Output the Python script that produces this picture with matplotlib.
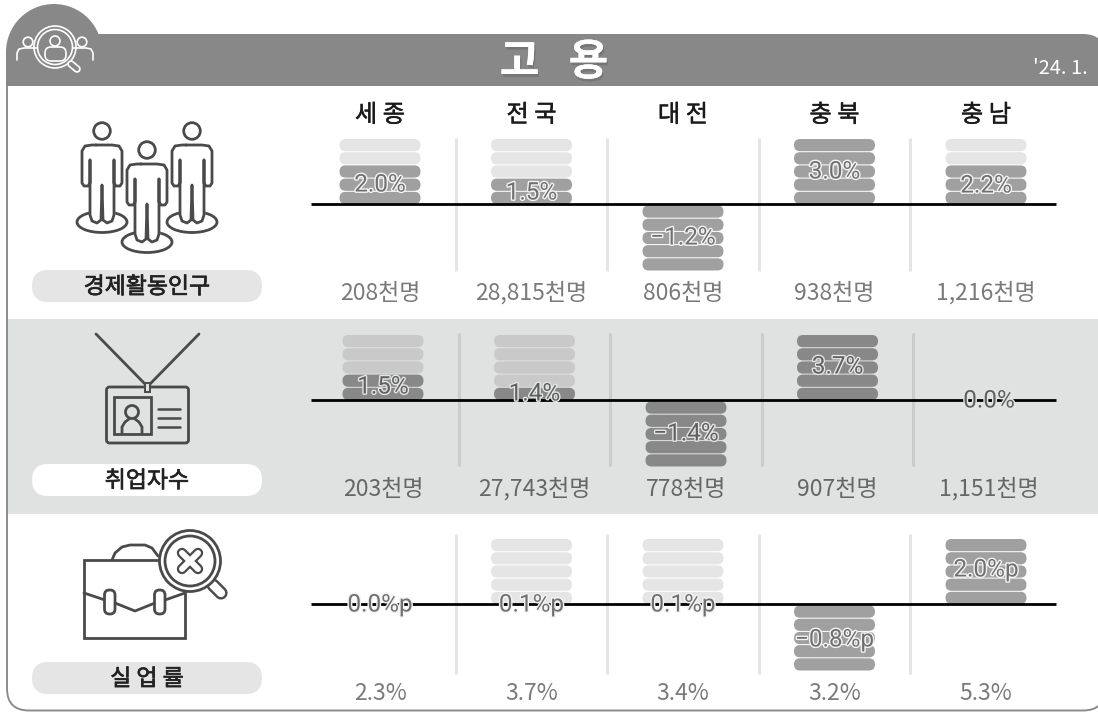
#!/usr/bin/env python3
"""고용 인포그래픽: 경제활동인구 / 취업자수 / 실업률 (알약 막대)"""

import numpy as np
import matplotlib
matplotlib.use("Agg")
import matplotlib.pyplot as plt
import matplotlib.patheffects as pe
from matplotlib.patches import Circle, Ellipse, FancyBboxPatch, Rectangle, Wedge

plt.rcParams["font.family"] = ["Noto Sans CJK KR", "DejaVu Sans"]

# ---- data ----
regions = ["세 종", "전 국", "대 전", "충 북", "충 남"]
row_names = ["경제활동인구", "취업자수", "실 업 률"]

labor_change = ["2.0%", "1.5%", "−1.2%", "3.0%", "2.2%"]
labor_sign = [1, 1, -1, 1, 1]
labor_filled = [3, 2, 5, 5, 3]
labor_total = ["208천명", "28,815천명", "806천명", "938천명", "1,216천명"]

employed_change = ["1.5%", "1.4%", "−1.4%", "3.7%", "0.0%"]
employed_sign = [1, 1, -1, 1, 0]
employed_filled = [2, 1, 5, 5, 0]
employed_total = ["203천명", "27,743천명", "778천명", "907천명", "1,151천명"]

jobless_change = ["0.0%p", "0.1%p", "0.1%p", "−0.8%p", "2.0%p"]
jobless_sign = [0, 1, 1, -1, 1]
jobless_filled = [0, 0, 0, 5, 5]
jobless_total = ["2.3%", "3.7%", "3.4%", "3.2%", "5.3%"]

# ---- layout (pixels) ----
PILL_W, PILL_H, PITCH = 81, 12.2, 13.2
COL_X = np.array([380, 531.5, 683, 834.5, 986])
ROW_STYLE = [
    dict(dx=0, base=204, sep=(138, 271), col="#A0A0A0", light="#E5E5E5", sepc="#E5E5E5",
         total_y=293, total_c="#7A7A7A", pill="#E5E5E5", text="#707070",
         label_y=[185, 193, 238, 172, 186]),
    dict(dx=3, base=400, sep=(333, 466), col="#888888", light="#C9C9C9", sepc="#CCCCCC",
         total_y=489, total_c="#666666", pill="#FFFFFF", text="#606060",
         label_y=[387, 394, 434, 367, 401]),
    dict(dx=0, base=604, sep=(534, 674), col="#A0A0A0", light="#E5E5E5", sepc="#E5E5E5",
         total_y=693, total_c="#7A7A7A", pill="#E5E5E5", text="#707070",
         label_y=[605, 605, 605, 640, 570]),
]
PILL_Y = [(270, 302), (464, 496), (662, 694)]
INK = "#4A4A4A"
HEAD = "#888888"
LW = 2.0


def pill(ax, x0, y0, w, h, color, z=3):
    ax.add_patch(FancyBboxPatch((x0, y0), w, h, boxstyle=f"round,pad=0,rounding_size={h / 2}",
                                lw=0, ec="none", fc=color, zorder=z))


def stroke(ax, xs, ys, color=INK, lw=LW, z=6):
    ax.plot(xs, ys, color=color, lw=lw, solid_capstyle="round", solid_joinstyle="round", zorder=z)


def person(ax, cx, top):
    # 머리 + 몸통 외곽
    ax.add_patch(Circle((cx, top - 14), 8.3, fc="none", ec=INK, lw=LW, zorder=6))
    xs = [-6, -10, -17, -20, -20, -18, -14, -12, -12, -12, -12, -10, -5, -1, 0, 1, 5, 10, 12, 12, 12, 12, 14, 18, 20, 20, 17, 10, -6]
    ys = [0, 0, 1, 6, 38, 41, 41, 38, 15, 38, 70, 76, 78, 75, 40, 75, 78, 76, 70, 38, 15, 38, 41, 41, 38, 6, 1, 0, 0]
    ax.fill(cx + np.array([-20, 20, 20, 12, 12, -12, -12, -20]),
            top + np.array([3, 3, 40, 40, 76, 76, 40, 40]), color="white", zorder=5)
    stroke(ax, cx + np.array(xs), top + np.array(ys))


def draw_people(ax):
    for c, y, w in [(102, 222, 50), (192, 222, 50), (147, 242, 50)]:
        ax.add_patch(Ellipse((c, y), w, 21, fc="white", ec=INK, lw=LW, zorder=4))
    person(ax, 102, 145)
    person(ax, 192, 145)
    person(ax, 147, 164)


def draw_badge(ax):
    stroke(ax, [96, 145], [334, 384])
    stroke(ax, [199, 150], [334, 384])
    ax.add_patch(FancyBboxPatch((106.5, 387), 82, 56, boxstyle="round,pad=0,rounding_size=3",
                                fc="none", ec=INK, lw=LW, zorder=6))
    ax.add_patch(Rectangle((144.5, 383), 5.5, 9, fc="#E0E1E1", ec=INK, lw=1.4, zorder=7))
    ax.add_patch(Rectangle((113.5, 397), 37, 37, fc="none", ec=INK, lw=LW, zorder=6))
    ax.add_patch(Circle((132, 412), 6.5, fc="none", ec=INK, lw=LW, zorder=6))
    stroke(ax, [122, 122, 125, 129], [433, 427, 422, 419])
    stroke(ax, [142, 142, 139, 135], [433, 427, 422, 419])
    for y in [409, 418, 427]:
        stroke(ax, [158, 180], [y, y], lw=1.8)


def draw_case(ax):
    ax.add_patch(Rectangle((84, 560), 101, 78, fc="white", ec=INK, lw=LW, zorder=5))
    stroke(ax, [112, 115, 122, 130, 145, 152, 158], [560, 553, 547, 545, 545, 548, 556], z=4)
    stroke(ax, [84, 105], [593, 600])
    stroke(ax, [115, 135, 155], [603, 611, 603])
    stroke(ax, [165, 185], [600, 593])
    for x in [104.5, 154.5]:
        ax.add_patch(FancyBboxPatch((x, 590), 10.5, 24, boxstyle="round,pad=0,rounding_size=5",
                                    fc="white", ec=INK, lw=LW, zorder=6))
    # 돋보기
    stroke(ax, [213, 221], [585, 593], lw=9.5, z=7)
    stroke(ax, [213, 221], [585, 593], color="white", lw=6, z=8)
    ax.add_patch(Circle((190, 561), 30.5, fc="white", ec=INK, lw=LW, zorder=9))
    ax.add_patch(Circle((190, 561), 25, fc="white", ec=INK, lw=LW, zorder=9))
    for sgn in [1, -1]:
        stroke(ax, [190 - 8 * sgn, 190 + 8 * sgn], [553, 569], lw=7.5, z=10)
    for sgn in [1, -1]:
        stroke(ax, [190 - 8 * sgn, 190 + 8 * sgn], [553, 569], color="white", lw=4.3, z=11)


def draw_header(ax):
    ax.add_patch(FancyBboxPatch((7, 34), 1098, 52, boxstyle="round,pad=0,rounding_size=22",
                                fc=HEAD, ec="none", zorder=2))
    ax.add_patch(Rectangle((7, 60), 1098, 26, fc=HEAD, ec="none", zorder=2))
    ax.add_patch(Wedge((54, 52), 48, 180, 360, fc=HEAD, ec="none", zorder=2))
    ax.add_patch(Rectangle((6, 52), 40, 34, fc=HEAD, ec="none", zorder=2))
    # 왼쪽 위 아이콘
    ax.add_patch(Circle((55, 47), 21, fc="none", ec="white", lw=1.2, zorder=4))
    ax.add_patch(Circle((55, 47), 17.5, fc="none", ec="white", lw=1.2, zorder=4))
    ax.add_patch(Circle((55, 41), 5, fc="none", ec="white", lw=1.2, zorder=4))
    ax.add_patch(FancyBboxPatch((45, 47), 21, 14, boxstyle="round,pad=0,rounding_size=6",
                                fc="none", ec="white", lw=1.2, zorder=4))
    stroke(ax, [71, 77], [64, 69], color="white", lw=5.5, z=4)
    stroke(ax, [71, 77], [64, 69], color=HEAD, lw=3, z=5)
    for c, sgn in [(28, -1), (82, 1)]:
        ax.add_patch(Circle((c, 42), 4.8, fc="none", ec="white", lw=1.2, zorder=4))
        stroke(ax, [c - sgn * 9, c + sgn * 4, c + sgn * 9, c + sgn * 11, c + sgn * 11],
               [48, 48, 49, 53, 60], color="white", lw=1.2, z=3)
    t = ax.text(554, 62, "고   용", color="white", fontsize=31, fontweight="bold",
                ha="center", va="center", zorder=6)
    t.set_path_effects([pe.withSimplePatchShadow(offset=(1, -2), shadow_rgbFace="#555555", alpha=0.35),
                        pe.Normal()])
    ax.text(1088, 68, "'24. 1.", color="white", fontsize=14.5, ha="right", va="center", zorder=6)


def draw_row(ax, style, changes, signs, filled, totals):
    ax.plot([311, 1056], [style["base"], style["base"]], color="black", lw=2.0, zorder=4,
            solid_capstyle="butt")
    for x in COL_X[:-1] + 75.5 + style["dx"]:
        ax.plot([x, x], style["sep"], color=style["sepc"], lw=2.2, zorder=2.5, solid_capstyle="butt")
    for i, cx in enumerate(COL_X + style["dx"]):
        if signs[i] > 0:
            tops = [style["base"] - 65 + k * PITCH for k in range(5)]
            colors = [style["light"]] * (5 - filled[i]) + [style["col"]] * filled[i]
        elif signs[i] < 0:
            tops = [style["base"] + 1.5 + k * PITCH for k in range(5)]
            colors = [style["col"]] * 5
        else:
            tops, colors = [], []
        for y, c in zip(tops, colors):
            pill(ax, cx - PILL_W / 2, y, PILL_W, PILL_H, c)
        halo = "#F4F4F4" if style["dx"] == 0 else "#E4E5E5"
        ax.text(cx, style["label_y"][i], changes[i], color=style["text"], fontsize=17.5, ha="center",
                va="center", zorder=7, family=["Roboto", "DejaVu Sans"],
                path_effects=[pe.withStroke(linewidth=2.0, foreground=halo)])
        ax.text(cx, style["total_y"], totals[i], color=style["total_c"], fontsize=16.5,
                ha="center", va="center", zorder=7)


fig = plt.figure(figsize=(10.98, 7.12), dpi=100)
ax = fig.add_axes([0, 0, 1, 1])
ax.set_xlim(0, 1098)
ax.set_ylim(712, 0)
ax.axis("off")

# 카드 외곽과 회색 띠
ax.add_patch(FancyBboxPatch((7, 60), 1098, 650.5, boxstyle="round,pad=0,rounding_size=22",
                            fc="white", ec="#8C8C8C", lw=1.4, zorder=1))
ax.add_patch(Rectangle((8, 319), 1090, 195, fc="#E0E1E1", ec="none", zorder=1.2))
draw_header(ax)

for i, name in enumerate(row_names):
    y0, y1 = PILL_Y[i]
    pill(ax, 32, y0, 230, y1 - y0, ROW_STYLE[i]["pill"])
    ax.text(147, (y0 + y1) / 2 + 1, name, fontsize=16.5, color="#222222", ha="center", va="center",
            zorder=5, path_effects=[pe.withStroke(linewidth=0.5, foreground="#222222")])

for cx, name in zip(COL_X, regions):
    ax.text(cx, 115, name, fontsize=17.5, color="#1A1A1A", ha="center", va="center", zorder=5,
            path_effects=[pe.withStroke(linewidth=0.3, foreground="#1A1A1A")])

draw_people(ax)
draw_badge(ax)
draw_case(ax)
draw_row(ax, ROW_STYLE[0], labor_change, labor_sign, labor_filled, labor_total)
draw_row(ax, ROW_STYLE[1], employed_change, employed_sign, employed_filled, employed_total)
draw_row(ax, ROW_STYLE[2], jobless_change, jobless_sign, jobless_filled, jobless_total)

fig.savefig("out.png", dpi=100)
plt.close(fig)
